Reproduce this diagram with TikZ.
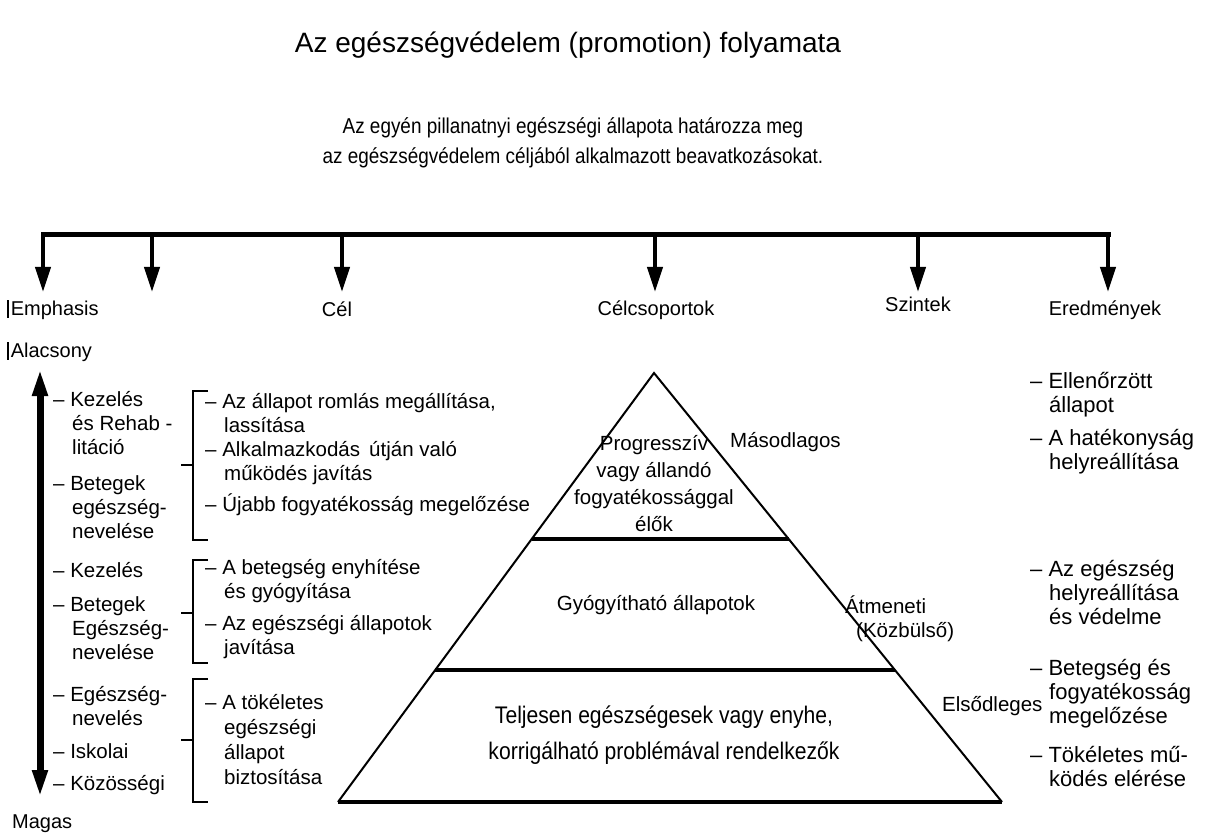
\documentclass[tikz,border=0pt]{standalone}
\usepackage{fontspec}
\setmainfont{Liberation Sans}
\newfontfamily\narrowfont[FakeStretch=0.88]{Liberation Sans}
\usetikzlibrary{
  arrows.meta,
  calc,
  positioning
}
\newcommand{\ind}{\hspace*{19pt}}
\tikzset{
  mainbar/.style={
    line width=5pt,
    line cap=rect
  },
  drop/.style={
    -{Triangle[length=25pt,width=15pt]},
    line width=4pt
  },
  axis/.style={
    {Triangle[length=28pt,width=14pt]}-{Triangle[length=28pt,width=14pt]},
    line width=7pt
  },
  bracket/.style={
    line width=2pt
  },
  pyr/.style={
    line width=2pt,
    line join=miter
  },
  layer/.style={
    line width=3.5pt
  },
  head/.style={
    font=\fontsize{20}{22}\selectfont,
    inner sep=0pt
  },
  item/.style={
    font=\fontsize{20.5}{24}\selectfont,
    inner sep=0pt,
    align=left,
    anchor=west
  },
  result/.style={
    item,
    font=\fontsize{22}{24}\selectfont
  },
  inside/.style={
    font=\fontsize{20.5}{29}\selectfont,
    inner sep=0pt,
    align=center
  }
}

\begin{document}
\begin{tikzpicture}[x=1pt, y=-1pt]
  \useasboundingbox[fill=white] (0,0) rectangle (1205,834);

  % Title and lead text.
  \node[inner sep=0pt, font=\fontsize{28}{32}\selectfont] (title) at (568,45)
    {Az egészségvédelem (promotion) folyamata};
  \node[inner sep=0pt, align=center,
    font=\narrowfont\fontsize{21.5}{30}\selectfont] (lead) at (573,143) {
    Az egyén pillanatnyi egészségi állapota határozza meg\\
    az egészségvédelem céljából alkalmazott beavatkozásokat.
  };

  % Distribution bar with its arrows.
  \foreach \name/\x in {a/43, b/152, c/342, d/655, e/918, f/1108} {
    \coordinate (bar\name) at (\x,235);
    \coordinate (tip\name) at (\x,292);
  }
  \draw[mainbar] (bara) -- (barf);
  \foreach \name in {a, b, c, d, e, f}
    \draw[drop] (bar\name) -- (tip\name);

  % Column heads.
  \node[head, anchor=west] (emph) at (7,310)
    {\rule[-2pt]{1.6pt}{18pt}\hspace{2pt}Emphasis};
  \node[head] (cel) at (337,309) {Cél};
  \node[head] (groups) at (656,310) {Célcsoportok};
  \node[head] (levels) at (918,304) {Szintek};
  \node[head] (results) at (1105,310) {Eredmények};
  \node[head, anchor=west] (low) at (7,352)
    {\rule[-2pt]{1.6pt}{18pt}\hspace{2pt}Alacsony};
  \node[head, anchor=west] (high) at (12,824) {Magas};

  % Emphasis scale.
  \coordinate (axtop) at (40,368);
  \coordinate (axbot) at (40,798);
  \draw[axis] (axbot) -- (axtop);

  \node[item] (emp1) at (53,423) {– Kezelés\\\ind és Rehab -\\\ind litáció};
  \node[item] (emp2) at (53,507) {– Betegek\\\ind egészség-\\\ind nevelése};
  \node[item] (emp3) at (53,570) {– Kezelés};
  \node[item] (emp4) at (53,628) {– Betegek\\\ind Egészség-\\\ind nevelése};
  \node[item] (emp5) at (53,706) {– Egészség-\\\ind nevelés};
  \node[item] (emp6) at (53,751) {– Iskolai};
  \node[item] (emp7) at (53,785) {– Közösségi};

  % Goals, grouped by brackets.
  \foreach \top/\mid/\bot in {391/465/540, 560/613/663, 679/740/802} {
    \draw[bracket] (208,\top) -- (193,\top) -- (193,\bot) -- (208,\bot);
    \draw[bracket] (181,\mid) -- (193,\mid);
  }
  \node[item] (goal1) at (205,413)
    {– Az állapot romlás megállítása,\\\ind lassítása};
  \node[item] (goal2) at (205,463)
    {– Alkalmazkodás\, útján való\\\ind működés javítás};
  \node[item] (goal3) at (205,505) {– Újabb fogyatékosság megelőzése};
  \node[item] (goal4) at (205,581)
    {– A betegség enyhítése\\\ind és gyógyítása};
  \node[item] (goal5) at (205,637)
    {– Az egészségi állapotok\\\ind javítása};
  \node[item, font=\fontsize{20.5}{25}\selectfont] (goal6) at (205,740)
    {– A tökéletes\\\ind egészségi\\\ind állapot\\\ind biztosítása};

  % Target groups pyramid.
  \coordinate (apex) at (654,373);
  \coordinate (baseL) at (338,802);
  \coordinate (baseR) at (1002,802);
  \draw[pyr] (baseL) -- (apex) -- (baseR);
  \draw[layer] (baseL) -- (baseR);
  \draw[layer] ($(apex)!0.387!(baseL)$) -- ($(apex)!0.387!(baseR)$);
  \draw[layer] ($(apex)!0.692!(baseL)$) -- ($(apex)!0.692!(baseR)$);

  \node[item, anchor=center, align=center,
    font=\fontsize{20.5}{27}\selectfont] (tgt1) at (654,484)
    {Progresszív\\vagy állandó\\fogyatékossággal\\élők};
  \node[inside] (tgt2) at (656,605) {Gyógyítható állapotok};
  \node[inside, font=\narrowfont\fontsize{24}{36}\selectfont] (tgt3)
    at (664,735)
    {Teljesen egészségesek vagy enyhe,\\korrigálható problémával rendelkezők};

  % Levels.
  \node[item] (lev1) at (730,442) {Másodlagos};
  \node[item] (lev2) at (845,619) {Átmeneti\\\hspace*{11pt}(Közbülső)};
  \node[item] (lev3) at (942,706) {Elsődleges};

  % Results.
  \node[result] (res1) at (1030,395) {– Ellenőrzött\\\ind állapot};
  \node[result] (res2) at (1030,452) {– A hatékonyság\\\ind helyreállítása};
  \node[result] (res3) at (1030,593)
    {– Az egészség\\\ind helyreállítása\\\ind és védelme};
  \node[result] (res4) at (1030,694)
    {– Betegség és\\\ind fogyatékosság\\\ind megelőzése};
  \node[result] (res5) at (1030,767) {– Tökéletes mű-\\\ind ködés elérése};
\end{tikzpicture}
\end{document}
